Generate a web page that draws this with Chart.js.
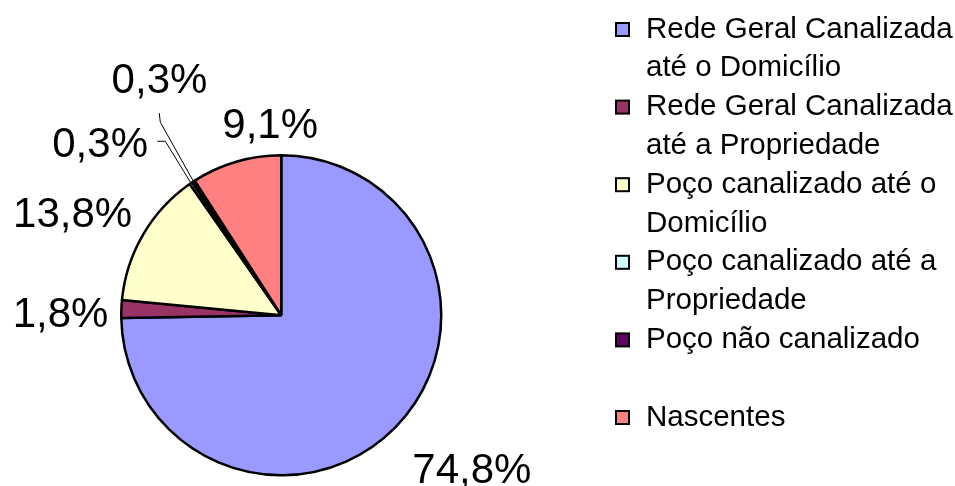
<!DOCTYPE html>
<html>
<head>
<meta charset="utf-8">
<script src="https://cdn.jsdelivr.net/npm/chart.js@4/dist/chart.umd.min.js"></script>
<style>
  html, body { margin: 0; padding: 0; background: #ffffff; }
  #wrap { width: 955px; height: 486px; }
</style>
</head>
<body>
<div id="wrap"><canvas id="c" width="955" height="486"></canvas></div>
<script>
// ---- data ----
const categories = [
  ['Rede Geral Canalizada', 'até o Domicílio'],
  ['Rede Geral Canalizada', 'até a Propriedade'],
  ['Poço canalizado até o', 'Domicílio'],
  ['Poço canalizado até a', 'Propriedade'],
  ['Poço não canalizado', ''],
  ['Nascentes']
];
const values = [74.8, 1.8, 13.8, 0.3, 0.3, 9.1];
const colors = ['#9999FF', '#993366', '#FFFFCC', '#CCFFFF', '#660066', '#FF8080'];

// ---- label placement (relative to slice mid-point on the rim) ----
const labelPlacement = [
  { dx: 17,  dy: 56,  align: 'left' },
  { dx: -13, dy: 18,  align: 'right' },
  { dx: -11, dy: -8,  align: 'right' },
  { dx: -43, dy: -26, align: 'right', leader: [[-25.7, -41.9], [-33.7, -41.9]] },
  { dx: -34, dy: -88, align: 'center', leader: [[-33.2, -59.3], [-34.2, -68.3]] },
  { dx: 34,  dy: -24, align: 'center' }
];

const FONT = '"Liberation Sans", Arial, sans-serif';

function fmt(v) { return v.toFixed(1).replace('.', ',') + '%'; }

const labelsPlugin = {
  id: 'pieLabels',
  afterDatasetsDraw(chart) {
    const ctx = chart.ctx;
    const meta = chart.getDatasetMeta(0);
    ctx.save();
    meta.data.forEach((arc, i) => {
      const p = arc.getProps(['x', 'y', 'startAngle', 'endAngle', 'outerRadius'], true);
      const mid = (p.startAngle + p.endAngle) / 2;
      const ex = p.x + Math.cos(mid) * p.outerRadius;
      const ey = p.y + Math.sin(mid) * p.outerRadius;
      const lp = labelPlacement[i];
      if (lp.leader) {
        ctx.strokeStyle = '#000';
        ctx.lineWidth = 1;
        ctx.beginPath();
        ctx.moveTo(ex, ey);
        lp.leader.forEach(pt => ctx.lineTo(ex + pt[0], ey + pt[1]));
        ctx.stroke();
      }
      ctx.fillStyle = '#000';
      ctx.font = '42px ' + FONT;
      ctx.textAlign = lp.align;
      ctx.textBaseline = 'alphabetic';
      ctx.fillText(fmt(values[i]), ex + lp.dx, ey + lp.dy);
    });
    ctx.restore();
  }
};

const legendPlugin = {
  id: 'sideLegend',
  afterDraw(chart) {
    const ctx = chart.ctx;
    ctx.save();
    const boxX = 616, textX = 646, firstBase = 37.5, pitch = 38.8, box = 13;
    let line = 0;
    categories.forEach((lines, i) => {
      const base = firstBase + pitch * line;
      ctx.fillStyle = colors[i];
      ctx.fillRect(boxX, base - 8 - box / 2, box, box);
      ctx.strokeStyle = '#000';
      ctx.lineWidth = 2;
      ctx.strokeRect(boxX, base - 8 - box / 2, box, box);
      ctx.fillStyle = '#000';
      ctx.font = '29.5px ' + FONT;
      ctx.textAlign = 'left';
      ctx.textBaseline = 'alphabetic';
      lines.forEach((t, k) => ctx.fillText(t, textX, base + pitch * k));
      line += Math.max(lines.length, 2);
    });
    ctx.restore();
  }
};

new Chart(document.getElementById('c'), {
  type: 'pie',
  data: {
    labels: categories.map(l => l.filter(Boolean).join(' ')),
    datasets: [{
      data: values,
      backgroundColor: colors,
      borderColor: '#000000',
      borderWidth: 2.5
    }]
  },
  options: {
    responsive: false,
    devicePixelRatio: 1,
    animation: false,
    layout: { padding: { left: 120, top: 154, right: 512.5, bottom: 9.5 } },
    plugins: {
      legend: { display: false },
      tooltip: { enabled: false }
    }
  },
  plugins: [labelsPlugin, legendPlugin]
});
</script>
</body>
</html>
